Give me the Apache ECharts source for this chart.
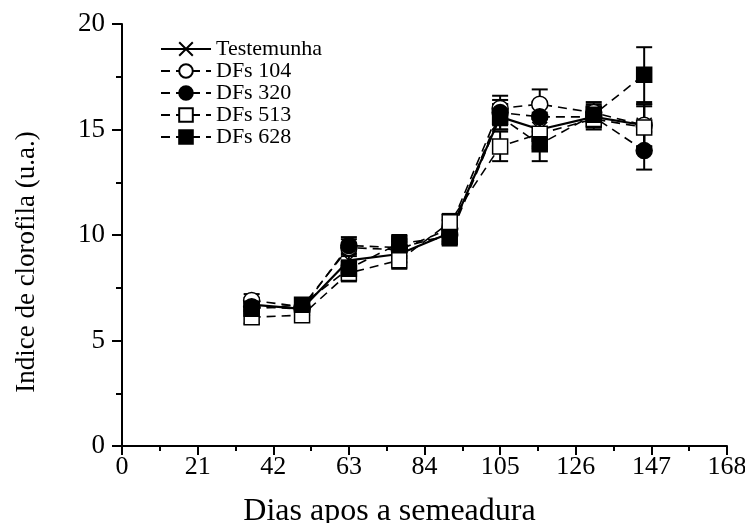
<!DOCTYPE html>
<html>
<head>
<meta charset="utf-8">
<script src="https://cdn.jsdelivr.net/npm/echarts@6/dist/echarts.min.js"></script>
<style>
  html, body { margin: 0; padding: 0; background: #fff; }
  #chart { width: 745px; height: 523px; }
</style>
</head>
<body>
<div id="chart"></div>
<script>
// dias apos a semeadura
var dias = [36, 50, 63, 77, 91, 105, 116, 131, 145];

var testemunha = [6.7, 6.5, 8.8, 9.1, 10.1, 15.6, 15.0, 15.6, 15.2];
var dfs104 = [6.9, 6.6, 9.4, 9.3, 10.3, 16.0, 16.2, 15.8, 15.2];
var dfs320 = [6.6, 6.5, 9.5, 9.4, 10.0, 15.8, 15.6, 15.6, 14.0];
var dfs513 = [6.1, 6.2, 8.2, 8.8, 10.6, 14.2, 14.8, 15.5, 15.1];
var dfs628 = [6.5, 6.7, 8.4, 9.6, 9.9, 15.6, 14.3, 15.7, 17.6];

// desvio (barras de erro)
var errTestemunha = [0.3, 0.3, 0.4, 0.4, 0.4, 0.6, 0.8, 0.5, 1.0];
var err104 = [0.3, 0.3, 0.4, 0.4, 0.4, 0.6, 0.7, 0.5, 1.0];
var err320 = [0.3, 0.3, 0.4, 0.4, 0.4, 0.6, 0.7, 0.5, 0.9];
var err513 = [0.3, 0.3, 0.4, 0.4, 0.4, 0.7, 0.7, 0.5, 1.0];
var err628 = [0.3, 0.3, 0.4, 0.4, 0.4, 0.6, 0.8, 0.5, 1.3];

var FONT = '"Liberation Serif", "DejaVu Serif", serif';

var myechart = echarts.init(document.getElementById('chart'));

function toLine (vals) {
  return dias.map(function (d, i) { return [d, vals[i]]; });
}
function toErr (vals, errs) {
  return dias.map(function (d, i) { return [d, vals[i] - errs[i], vals[i] + errs[i]]; });
}

function renderErr (params, api) {
  var x = api.value(0);
  var p1 = api.coord([x, api.value(1)]);
  var p2 = api.coord([x, api.value(2)]);
  var w = 8;
  var st = { stroke: '#000', lineWidth: 2 };
  return {
    type: 'group',
    children: [
      { type: 'line', shape: { x1: p1[0], y1: p1[1], x2: p2[0], y2: p2[1] }, style: st },
      { type: 'line', shape: { x1: p1[0] - w, y1: p1[1], x2: p1[0] + w, y2: p1[1] }, style: st },
      { type: 'line', shape: { x1: p2[0] - w, y1: p2[1], x2: p2[0] + w, y2: p2[1] }, style: st }
    ]
  };
}

function lineSeries (name, vals, symbol, fill, solid) {
  return {
    name: name,
    type: 'line',
    data: toLine(vals),
    symbol: symbol,
    symbolSize: symbol === 'circle' ? 16 : 15,
    z: 5,
    lineStyle: { color: '#000', width: solid ? 2.2 : 1.6, type: solid ? 'solid' : [9, 6] },
    itemStyle: { color: fill, borderColor: '#000', borderWidth: 1.5 }
  };
}

function errSeries (vals, errs) {
  return {
    type: 'custom',
    renderItem: renderErr,
    data: toErr(vals, errs),
    z: 3,
    silent: true
  };
}

var crossSym = 'path://M0,0L10,10M10,0L0,10';

var option = {
  animation: false,
  textStyle: { fontFamily: FONT, color: '#000' },
  grid: { left: 122, right: 18, top: 24, bottom: 77, outerBoundsMode: 'none', containLabel: false },
  legend: {
    orient: 'vertical',
    left: 155,
    top: 33,
    itemWidth: 50,
    itemHeight: 17,
    itemGap: 0,
    textStyle: { fontFamily: FONT, fontSize: 22, lineHeight: 20, color: '#000' },
    data: ['Testemunha', 'DFs 104', 'DFs 320', 'DFs 513', 'DFs 628']
  },
  xAxis: {
    type: 'value',
    min: 0,
    max: 168,
    interval: 21,
    name: 'Dias apos a semeadura',
    nameLocation: 'middle',
    nameGap: 50,
    nameTextStyle: { fontFamily: FONT, fontSize: 32, color: '#000', padding: [0, 70, 0, 0] },
    axisLine: { lineStyle: { color: '#000', width: 2 } },
    axisTick: { length: 9, lineStyle: { color: '#000', width: 2 } },
    minorTick: { show: true, splitNumber: 2, length: 5, lineStyle: { color: '#000', width: 2 } },
    axisLabel: { fontFamily: FONT, fontSize: 26, color: '#000', margin: 8 },
    splitLine: { show: false }
  },
  yAxis: {
    type: 'value',
    min: 0,
    max: 20,
    interval: 5,
    name: 'Indice de clorofila (u.a.)',
    nameLocation: 'middle',
    nameGap: 82,
    nameTextStyle: { fontFamily: FONT, fontSize: 27, color: '#000', padding: [0, 54, 0, 0] },
    axisLine: { show: true, lineStyle: { color: '#000', width: 2 } },
    axisTick: { show: true, length: 10, lineStyle: { color: '#000', width: 2 } },
    minorTick: { show: true, splitNumber: 2, length: 6, lineStyle: { color: '#000', width: 2 } },
    axisLabel: { fontFamily: FONT, fontSize: 27, color: '#000', margin: 17 },
    splitLine: { show: false }
  },
  series: [
    errSeries(testemunha, errTestemunha),
    errSeries(dfs104, err104),
    errSeries(dfs320, err320),
    errSeries(dfs513, err513),
    errSeries(dfs628, err628),
    lineSeries('Testemunha', testemunha, crossSym, 'none', true),
    lineSeries('DFs 104', dfs104, 'circle', '#fff', false),
    lineSeries('DFs 320', dfs320, 'circle', '#000', false),
    lineSeries('DFs 513', dfs513, 'rect', '#fff', false),
    lineSeries('DFs 628', dfs628, 'rect', '#000', false)
  ]
};
myechart.setOption(option);
window.onresize = function () { myechart.resize(); };
</script>
</body>
</html>
